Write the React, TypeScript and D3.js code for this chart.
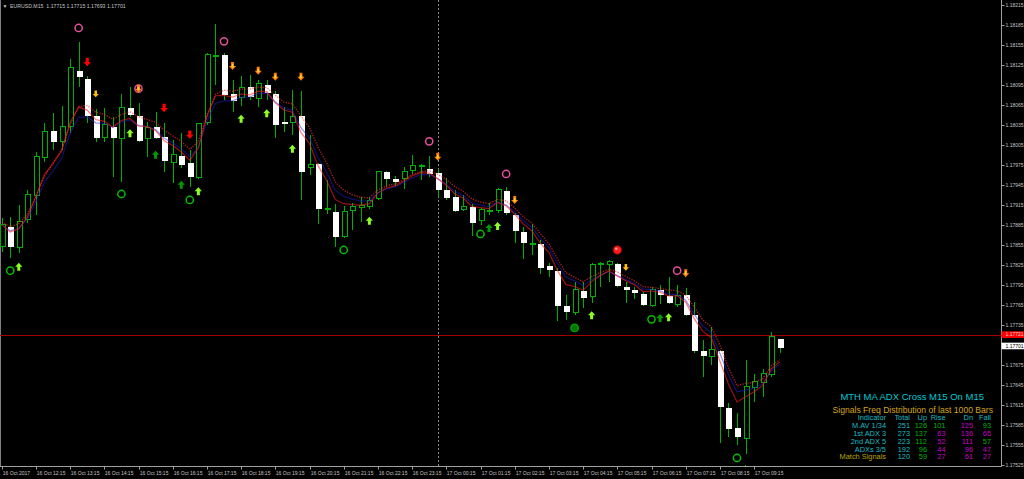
import React from 'react';
import * as d3 from 'd3';

// ---------- DATA ----------
const symbolName = 'EURUSD.M15';
const opens = [1.17853,1.17883,1.17851,1.17893,1.17929,1.17986,1.18027,1.18010,1.18033,1.18117,
1.18105,1.18049,1.18016,1.18033,1.18015,1.18061,1.18049,1.18015,1.18033,1.18018,
1.17979,1.17989,1.17979,1.17956,1.18039,1.18138,1.18141,1.18082,1.18076,1.18093,
1.18075,1.18096,1.18082,1.18040,1.18039,1.18049,1.17971,1.17977,1.17908,1.17905,
1.17868,1.17907,1.17911,1.17913,1.17925,1.17965,1.17955,1.17955,1.17967,1.17973,
1.17970,1.17964,1.17938,1.17928,1.17908,1.17913,1.17892,1.17906,1.17907,1.17937,
1.17901,1.17875,1.17856,1.17857,1.17824,1.17817,1.17764,1.17754,1.17787,1.17778,
1.17826,1.17826,1.17827,1.17793,1.17788,1.17782,1.17764,1.17788,1.17779,1.17766,
1.17781,1.17751,1.17697,1.17688,1.17697,1.17611,1.17581,1.17565,1.17641,1.17649,
1.17661,1.17715];
const highs = [1.17896,1.17898,1.17916,1.17938,1.17995,1.18039,1.18054,1.18064,1.18135,1.18160,
1.18109,1.18060,1.18061,1.18048,1.18082,1.18093,1.18069,1.18040,1.18055,1.18039,
1.18013,1.18024,1.17998,1.18039,1.18144,1.18187,1.18144,1.18103,1.18109,1.18111,
1.18103,1.18103,1.18087,1.18063,1.18088,1.18087,1.18021,1.17979,1.17953,1.17917,
1.17914,1.17919,1.17928,1.17928,1.17967,1.17967,1.17959,1.17973,1.17991,1.17977,
1.17989,1.17970,1.17956,1.17938,1.17931,1.17917,1.17911,1.17919,1.17941,1.17943,
1.17904,1.17883,1.17887,1.17863,1.17829,1.17821,1.17781,1.17800,1.17800,1.17829,
1.17830,1.17833,1.17829,1.17800,1.17793,1.17785,1.17793,1.17796,1.17808,1.17796,
1.17791,1.17770,1.17713,1.17733,1.17698,1.17619,1.17604,1.17683,1.17662,1.17670,
1.17725,1.17715];
const lows = [1.17845,1.17836,1.17844,1.17889,1.17901,1.17980,1.17998,1.17998,1.18024,1.18093,
1.18039,1.18010,1.18010,1.17958,1.17950,1.18048,1.18010,1.17988,1.18015,1.17965,
1.17949,1.17971,1.17943,1.17955,1.18036,1.18096,1.18073,1.18055,1.18064,1.18073,
1.18063,1.18073,1.18016,1.18025,1.18021,1.17923,1.17961,1.17887,1.17902,1.17853,
1.17866,1.17878,1.17890,1.17910,1.17923,1.17943,1.17944,1.17940,1.17962,1.17953,
1.17958,1.17928,1.17923,1.17905,1.17907,1.17869,1.17886,1.17901,1.17904,1.17901,
1.17859,1.17835,1.17841,1.17812,1.17808,1.17742,1.17743,1.17751,1.17761,1.17769,
1.17793,1.17800,1.17793,1.17769,1.17775,1.17764,1.17763,1.17767,1.17767,1.17763,
1.17749,1.17694,1.17658,1.17676,1.17559,1.17568,1.17556,1.17542,1.17620,1.17628,
1.17658,1.17693];
const closes = [1.17886,1.17853,1.17890,1.17931,1.17988,1.18025,1.18010,1.18033,1.18121,1.18108,
1.18049,1.18016,1.18036,1.18016,1.18061,1.18051,1.18012,1.18031,1.18016,1.17982,
1.17991,1.17976,1.17958,1.18037,1.18141,1.18139,1.18081,1.18072,1.18091,1.18078,
1.18097,1.18084,1.18036,1.18037,1.18048,1.17965,1.17976,1.17910,1.17910,1.17868,
1.17905,1.17913,1.17914,1.17922,1.17965,1.17955,1.17950,1.17965,1.17974,1.17974,
1.17962,1.17938,1.17926,1.17907,1.17913,1.17889,1.17908,1.17907,1.17938,1.17904,
1.17877,1.17859,1.17857,1.17821,1.17818,1.17764,1.17755,1.17788,1.17776,1.17826,
1.17827,1.17830,1.17794,1.17788,1.17784,1.17766,1.17788,1.17781,1.17769,1.17779,
1.17751,1.17697,1.17689,1.17698,1.17613,1.17580,1.17568,1.17643,1.17650,1.17662,
1.17718,1.17701];

const timeLabels = ['16 Oct 2017','16 Oct 12:15','16 Oct 13:15','16 Oct 14:15','16 Oct 15:15','16 Oct 16:15',
'16 Oct 17:15','16 Oct 18:15','16 Oct 19:15','16 Oct 20:15','16 Oct 21:15','16 Oct 22:15','16 Oct 23:15',
'17 Oct 00:15','17 Oct 01:15','17 Oct 02:15','17 Oct 03:15','17 Oct 04:15','17 Oct 05:15','17 Oct 06:15',
'17 Oct 07:15','17 Oct 08:15','17 Oct 09:15'];
const timeLabelBars = [0,4,8,12,16,20,24,28,32,36,40,44,48,52,56,60,64,68,72,76,80,84,88];
const priceTicks = [1.18215,1.18185,1.18155,1.18125,1.18095,1.18065,1.18035,1.18005,1.17975,1.17945,
1.17915,1.17885,1.17855,1.17825,1.17795,1.17765,1.17735,1.17675,1.17645,1.17615,1.17585,1.17555,1.17525];
const separatorBar = 51;
const hLinePrice = 1.17721;
const bidPrice = 1.17701;

// signal markers: [bar, price]
const pinkRings = [[9,1.18181],[26,1.18161],[16,1.18090],[50,1.18011],[59,1.17962],[79,1.17817]];
const redBalls = [[72,1.17848]];
const redDownArrows = [[10,1.18130],[19,1.18061],[22,1.18021]];
const orangeDownArrows = [[16,1.18090],[27,1.18124],[30,1.18117],[32,1.18108],[35,1.18108],[51,1.17988],[60,1.17923],[80,1.17813]];
const yellowDownArrows = [[11,1.18082],[73,1.17822]];
const greenRings = [[1,1.17817],[14,1.17932],[22,1.17923],[40,1.17848],[56,1.17872],[76,1.17744],[86,1.17536]];
const greenDots = [[67,1.17731]];
const lightUpArrows = [[2,1.17823],[15,1.18023],[23,1.17936],[28,1.18045],[31,1.18053],[34,1.18000],[43,1.17892],[58,1.17884],[69,1.17750],[78,1.17747],[87,1.17519]];
const darkUpArrows = [[18,1.17991],[21,1.17946],[57,1.17881],[77,1.17746]];

// info table
const tableTitle = 'MTH MA ADX Cross M15 On M15';
const tableSubtitle = 'Signals Freq Distribution of last 1000 Bars';
const tableHeader = ['Indicator','Total','Up','Rise','Dn','Fall'];
const indicators = ['M.AV 1/34','1st ADX 3','2nd ADX 5','ADXs 3/5','Match Signals'];
const totals = [251,273,223,192,120];
const ups = [126,137,112,96,59];
const rises = [101,63,52,44,27];
const dns = [125,136,111,96,61];
const falls = [93,65,57,47,27];

// ---------- STYLE ----------
const W = 1024, H = 479;
const PLOT_R = 1001.5, PLOT_B = 466.5;
const FONT = '"Liberation Sans", Arial, sans-serif';
const AXIS_COL = '#c4c4c4';
const GREEN = '#00b000';
const CYAN = '#00c8d2';
const TEAL = '#1cbcc4';
const GOLD = '#d4a418';
const OLIVE = '#b8a400';
const TGREEN = '#00b400';
const MAG = '#c800c8';
const riseColors = [TGREEN, MAG, MAG, MAG, MAG];
const fallColors = [TGREEN, MAG, TGREEN, MAG, MAG];
const colRight = [886, 910, 927, 945.5, 973, 991];

const x = d3.scaleLinear().domain([0, 91]).range([1.7, 779.75]);
const y = d3.scaleLinear().domain([1.17525, 1.18215]).range([465.3, 5.3]);

function ema(vals: number[], alpha: number) {
  const out: number[] = [];
  let prev = vals[0];
  vals.forEach((v, i) => { prev = i === 0 ? v : prev + alpha * (v - prev); out.push(prev); });
  return out;
}

const downArrow = 'M-1.5,-4 L1.5,-4 L1.5,0 L3.6,0 L0,4 L-3.6,0 L-1.5,0 Z';
const upArrow = 'M-1.5,4 L1.5,4 L1.5,0 L3.6,0 L0,-4 L-3.6,0 L-1.5,0 Z';

export default function App() {
  const idx = d3.range(closes.length);
  const fast = ema(closes, 0.34);
  const mid = ema(closes, 0.28);
  const hiMix = ema(closes.map((c, i) => (2 * c + highs[i]) / 3), 0.3);
  const line = (arr: number[]) => d3.line<number>().x((i) => x(i)).y((i) => y(arr[i]))(idx) || '';

  return (
    <svg width={W} height={H} style={{ position: 'fixed', left: 0, top: 0, background: '#000' }}
      fontFamily={FONT}>
      <rect x={0} y={0} width={W} height={H} fill="#000" />
      <defs>
        <clipPath id="plot"><rect x={0} y={0} width={PLOT_R} height={PLOT_B} /></clipPath>
      </defs>

      {/* borders */}
      <line x1={0.5} y1={0} x2={0.5} y2={PLOT_B} stroke="#808080" />
      <line x1={PLOT_R} y1={0} x2={PLOT_R} y2={PLOT_B} stroke="#a0a0a0" />
      <line x1={0} y1={PLOT_B} x2={PLOT_R} y2={PLOT_B} stroke="#a0a0a0" />

      <g clipPath="url(#plot)">
        {/* period separator */}
        <line x1={Math.round(x(separatorBar)) + 0.5} x2={Math.round(x(separatorBar)) + 0.5} y1={0} y2={PLOT_B}
          stroke="#8a8a8a" strokeDasharray="2 2" />
        {/* horizontal line */}
        <line x1={0} x2={PLOT_R} y1={Math.round(y(hLinePrice)) + 0.5} y2={Math.round(y(hLinePrice)) + 0.5}
          stroke="#a00000" strokeWidth={1} shapeRendering="crispEdges" />

        {/* candles */}
        <g shapeRendering="crispEdges">
          {idx.map((i) => {
            const cx = Math.round(x(i)) + 0.5;
            const bull = closes[i] >= opens[i];
            const yo = y(opens[i]), yc = y(closes[i]);
            const top = Math.min(yo, yc), bot = Math.max(yo, yc);
            const h = Math.max(bot - top, 1);
            return (
              <g key={i}>
                <line x1={cx} x2={cx} y1={y(highs[i])} y2={y(lows[i])} stroke={GREEN} />
                {bull ? (
                  <rect x={cx - 2.5} y={top} width={5} height={h} fill="#000" stroke={GREEN} strokeWidth={1} />
                ) : (
                  <rect x={cx - 3} y={top} width={6} height={h} fill="#ffffff" />
                )}
              </g>
            );
          })}
        </g>

        {/* moving averages */}
        <path d={line(hiMix)} fill="none" stroke="#ff3030" strokeOpacity={0.65} strokeWidth={1.4} strokeDasharray="1.3 1.3" />
        <path d={line(mid)} fill="none" stroke="#2020e0" strokeOpacity={0.5} strokeWidth={1.2} />
        <path d={line(fast)} fill="none" stroke="#ff2020" strokeOpacity={0.6} strokeWidth={1.2} />

        {/* markers */}
        {pinkRings.map(([b, p], k) => (
          <circle key={'pr' + k} cx={x(b)} cy={y(p)} r={3.6} fill="none" stroke="#e8509e" strokeWidth={1.5} />
        ))}
        {redBalls.map(([b, p], k) => (
          <g key={'rb' + k}>
            <circle cx={x(b)} cy={y(p)} r={4.2} fill="#ff1e1e" stroke="#a00000" strokeWidth={1} />
            <circle cx={x(b) - 1} cy={y(p) - 1.2} r={1.2} fill="#ff9a9a" />
          </g>
        ))}
        {greenRings.map(([b, p], k) => (
          <circle key={'gr' + k} cx={x(b)} cy={y(p)} r={3.6} fill="none" stroke="#00c000" strokeWidth={1.5} />
        ))}
        {greenDots.map(([b, p], k) => (
          <circle key={'gd' + k} cx={x(b)} cy={y(p)} r={3.8} fill="#007800" stroke="#00a800" strokeWidth={1.2} />
        ))}
        {redDownArrows.map(([b, p], k) => (
          <path key={'ra' + k} d={downArrow} transform={`translate(${x(b)},${y(p)}) scale(1.05)`} fill="#ff0000" />
        ))}
        {orangeDownArrows.map(([b, p], k) => (
          <g key={'oa' + k} transform={`translate(${x(b)},${y(p)})`}>
            <path d={downArrow} fill="#ff7a00" />
            <path d={downArrow} transform="scale(0.5)" fill="#ffd040" />
          </g>
        ))}
        {yellowDownArrows.map(([b, p], k) => (
          <path key={'ya' + k} d={downArrow} transform={`translate(${x(b)},${y(p)}) scale(0.85)`} fill="#ffc000" />
        ))}
        {lightUpArrows.map(([b, p], k) => (
          <path key={'la' + k} d={upArrow} transform={`translate(${x(b)},${y(p)})`} fill="#8cff20" />
        ))}
        {darkUpArrows.map(([b, p], k) => (
          <path key={'da' + k} d={upArrow} transform={`translate(${x(b)},${y(p)})`} fill="#009a00" />
        ))}
      </g>

      {/* title */}
      <text x={2.5} y={7.5} fontSize={5} fill={AXIS_COL}>▼</text>
      <text x={10} y={7.5} fontSize={5.2} fill={AXIS_COL} xmlSpace="preserve">
        {`${symbolName}  ${opens[91].toFixed(5)} ${highs[91].toFixed(5)} ${lows[91].toFixed(5)} ${closes[91].toFixed(5)}`}
      </text>

      {/* price axis */}
      {priceTicks.map((p) => (
        <g key={p}>
          <line x1={PLOT_R} x2={PLOT_R + 3} y1={Math.round(y(p)) + 0.5} y2={Math.round(y(p)) + 0.5} stroke="#a0a0a0" />
          <text x={1005.5} y={y(p) + 1.8} fontSize={5} fill={AXIS_COL}>{p.toFixed(5)}</text>
        </g>
      ))}
      <rect x={PLOT_R} y={y(hLinePrice) - 3.3} width={W - PLOT_R} height={6.6} fill="#ff0000" />
      <text x={1005.5} y={y(hLinePrice) + 1.8} fontSize={5} fill="#ffd0d0">{hLinePrice.toFixed(5)}</text>
      <rect x={PLOT_R} y={y(bidPrice) - 5.3} width={W - PLOT_R} height={6.6} fill="#ffffff" />
      <text x={1005.5} y={y(bidPrice) - 0.2} fontSize={5} fill="#000">{bidPrice.toFixed(5)}</text>

      {/* time axis */}
      {timeLabelBars.map((b, k) => {
        const tx = Math.round(x(b)) + 0.5;
        return (
          <g key={b}>
            <line x1={tx} x2={tx} y1={PLOT_B} y2={PLOT_B + 3} stroke="#a0a0a0" />
            <text x={tx + 0.3} y={474.8} fontSize={5} fill={AXIS_COL}>{timeLabels[k]}</text>
          </g>
        );
      })}

      {/* info table */}
      <text x={984} y={400} fontSize={9.5} fill={CYAN} textAnchor="end">{tableTitle}</text>
      <text x={993} y={412.6} fontSize={8.6} fill={GOLD} textAnchor="end">{tableSubtitle}</text>
      {tableHeader.map((h, c) => (
        <text key={h} x={colRight[c]} y={420.3} fontSize={7.4} fill={TEAL} textAnchor="end">{h}</text>
      ))}
      {indicators.map((name, r) => {
        const yy = 428.1 + r * 7.8;
        return (
          <g key={name} fontSize={7.4} textAnchor="end">
            <text x={colRight[0]} y={yy} fill={r === 4 ? OLIVE : TEAL}>{name}</text>
            <text x={colRight[1]} y={yy} fill={TEAL}>{totals[r]}</text>
            <text x={colRight[2]} y={yy} fill={TGREEN}>{ups[r]}</text>
            <text x={colRight[3]} y={yy} fill={riseColors[r]}>{rises[r]}</text>
            <text x={colRight[4]} y={yy} fill={MAG}>{dns[r]}</text>
            <text x={colRight[5]} y={yy} fill={fallColors[r]}>{falls[r]}</text>
          </g>
        );
      })}
    </svg>
  );
}
